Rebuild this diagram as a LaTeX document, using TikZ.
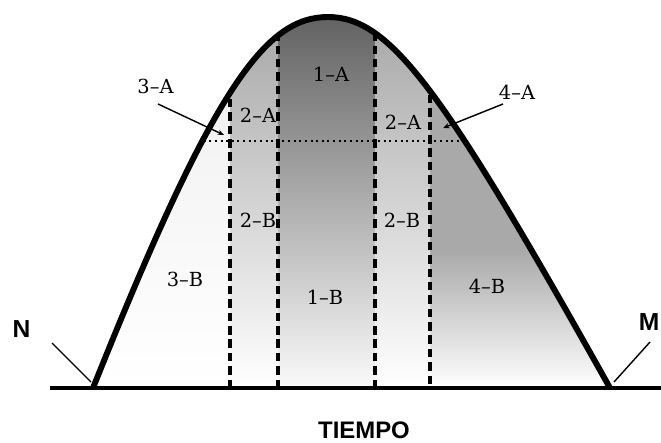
\documentclass[tikz,border=0pt]{standalone}
\usepackage{fontspec}
\setmainfont{DejaVu Serif}
\newfontfamily\rotulo{Liberation Sans}
\usetikzlibrary{arrows.meta}
\definecolor{gris1}{HTML}{606060}
\definecolor{gris2}{HTML}{A6A6A6}
\definecolor{gris3}{HTML}{EEEEEE}
\definecolor{gris4}{HTML}{A9A9A9}

\begin{document}
\begin{tikzpicture}[x=0.025cm,y=0.025cm,>={Stealth[length=4.5pt,width=3.6pt]},
  zona/.style={font=\fontsize{13.8}{16}\selectfont},
  rot/.style={font=\rotulo\bfseries\fontsize{17.5}{20}\selectfont}]
  \useasboundingbox (0,0) rectangle (661,442);
  \coordinate (N) at (93,54);
  \coordinate (M) at (610,54);
  \coordinate (P) at (328,425);
  % sombreado de las zonas
  \begin{scope}
    \clip (N) .. controls (213,354) and (265,425) .. (P)
      .. controls (390,425) and (442,354) .. (M) -- cycle;
    \shade[top color=gris3,bottom color=white] (80,54) rectangle (230,430);
    \shade[top color=gris2,bottom color=white] (230,54) rectangle (278,430);
    \shade[top color=gris1,bottom color=white!98!black] (278,54) rectangle (375,430);
    \shade[top color=gris2,bottom color=white] (375,54) rectangle (430,430);
    \fill[gris4] (430,192) rectangle (620,430);
    \shade[top color=gris4,bottom color=white] (430,54) rectangle (620,192);
    % divisiones
    \foreach \x in {230,278,375}
      \draw[line width=2.3pt,dash pattern=on 6pt off 3.5pt] (\x,54) -- (\x,430);
    \draw[line width=2.3pt,dash pattern=on 6pt off 3.5pt] (430,58) -- (430,430);
    \draw[line width=1.4pt,dash pattern=on 1.4pt off 2.6pt] (80,301) -- (620,301);
  \end{scope}
  \draw[line width=2.8pt] (50,54) -- (661,54);
  \draw[line width=4.2pt,line join=round] (N) .. controls (213,354) and (265,425) .. (P)
    .. controls (390,425) and (442,354) .. (M);
  % rotulos de zonas
  \node[zona] (z1A) at (331,368) {1--A};
  \node[zona] (z2Ai) at (258,327) {2--A};
  \node[zona] (z2Ad) at (403,320) {2--A};
  \node[zona] (z2Bi) at (258,222) {2--B};
  \node[zona] (z2Bd) at (402,222) {2--B};
  \node[zona] (z3B) at (185,163) {3--B};
  \node[zona] (z1B) at (325,145) {1--B};
  \node[zona] (z4B) at (487,156) {4--B};
  \node[zona] (z3A) at (155.5,356) {3--A};
  \node[zona] (z4A) at (517,350) {4--A};
  \coordinate (i3) at (158,338); \coordinate (f3) at (224,307);
  \coordinate (i4) at (503,338); \coordinate (f4) at (443,314);
  \draw[->,line width=1pt] (i3) -- (f3);
  \draw[->,line width=1pt] (i4) -- (f4);
  % extremos N y M
  \node[rot] (tN) at (21.5,113) {N};
  \node[rot] (tM) at (649,120) {M};
  \coordinate (lN) at (52,99); \coordinate (pN) at (91,60);
  \coordinate (lM) at (650,100); \coordinate (pM) at (614,60);
  \draw[line width=1pt] (lN) -- (pN);
  \draw[line width=1pt] (lM) -- (pM);
  \node[font=\rotulo\bfseries\fontsize{17}{20}\selectfont] (eje) at (364,12) {TIEMPO};
\end{tikzpicture}
\end{document}
